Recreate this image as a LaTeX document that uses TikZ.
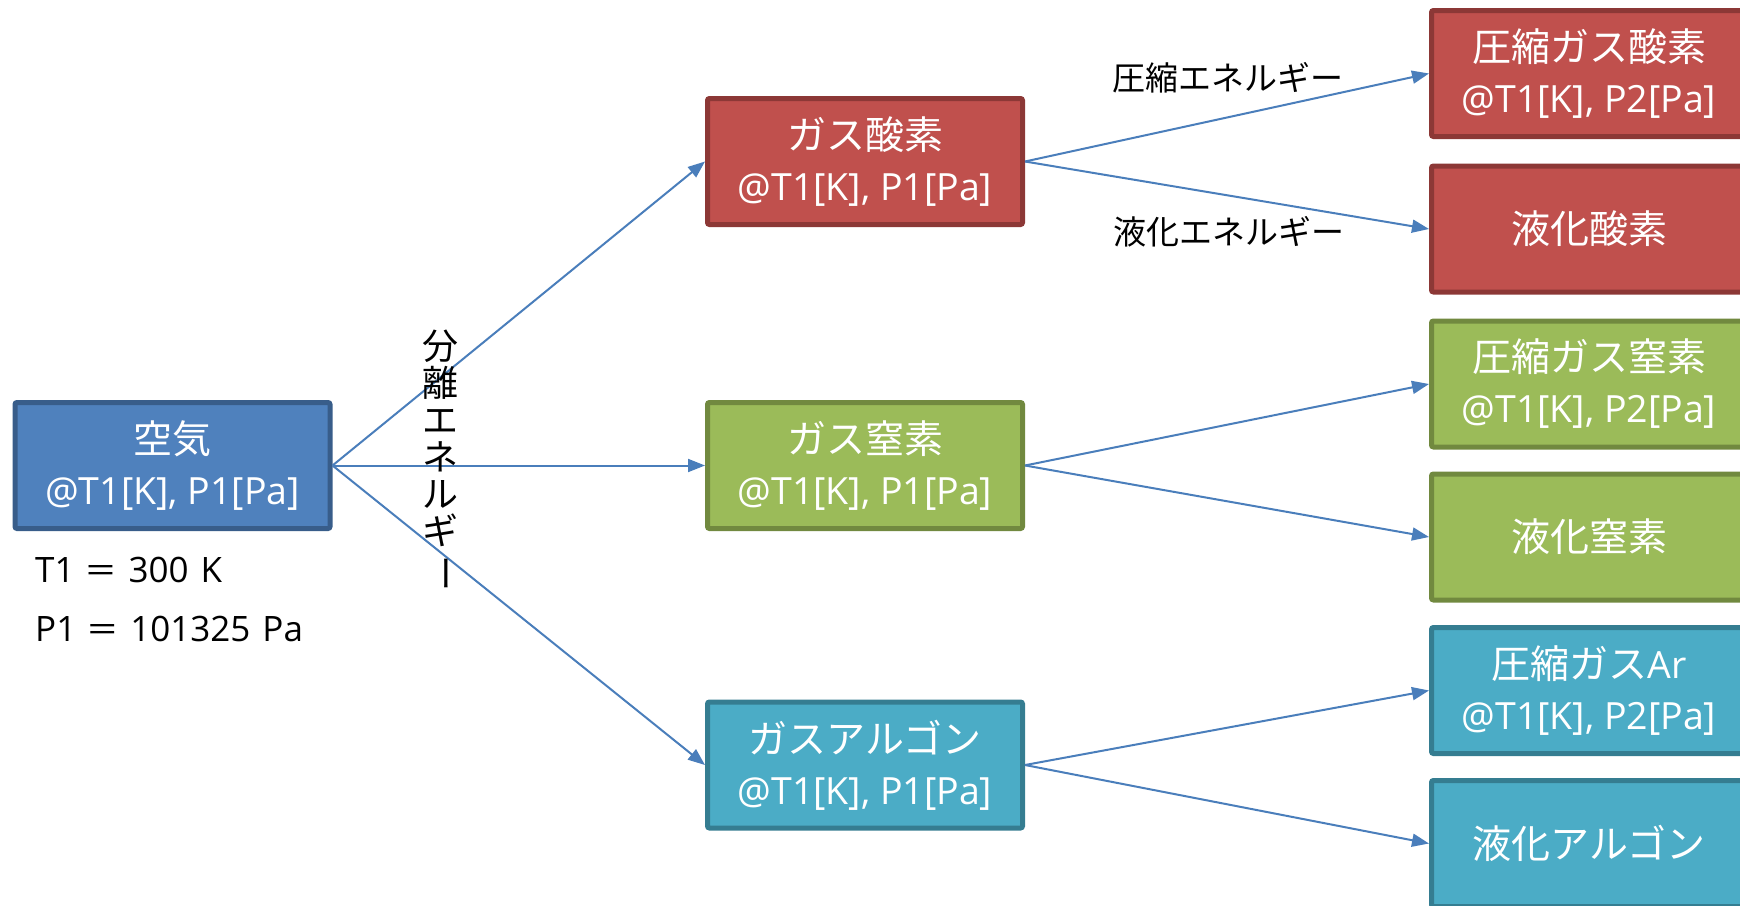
\documentclass[tikz,border=0pt]{standalone}
\usepackage{fontspec}
\setmainfont{Open Sans}
\newfontfamily\jpfont{Noto Sans CJK JP}
\newcommand{\jpt}[1]{{\jpfont\fontsize{39}{51}\selectfont #1}}
\newcommand{\eqw}{\hspace{11pt}\scalebox{1.5}[1]{=}\hspace{13pt}}
\usetikzlibrary{arrows.meta}
\definecolor{blueF}{HTML}{4F81BD}
\definecolor{blueD}{HTML}{385D8A}
\definecolor{redF}{HTML}{C0504D}
\definecolor{redD}{HTML}{8C3836}
\definecolor{greenF}{HTML}{9BBB59}
\definecolor{greenD}{HTML}{71893F}
\definecolor{cyanF}{HTML}{4BACC6}
\definecolor{cyanD}{HTML}{357D91}
\definecolor{arrowC}{HTML}{4A7EBB}
\tikzset{
  box/.style={draw, line width=5pt, rounded corners=2pt, minimum width=315pt, minimum height=126pt,
    inner sep=0pt, align=center, text=white, font=\fontsize{37.5}{51}\selectfont},
  bluebox/.style={box, fill=blueF, draw=blueD},
  redbox/.style={box, fill=redF, draw=redD},
  greenbox/.style={box, fill=greenF, draw=greenD},
  cyanbox/.style={box, fill=cyanF, draw=cyanD},
  arr/.style={draw=arrowC, line width=2pt, -{Triangle[length=17pt,width=13pt]}},
  lbl/.style={font=\jpfont\fontsize{33}{40}\selectfont, text=black, inner sep=0pt},
  vlbl/.style={font=\jpfont\fontsize{36}{37}\selectfont, text=black, inner sep=0pt, align=center},
  txt/.style={font=\fontsize{35}{42}\selectfont, text=black, inner sep=0pt}
}
\begin{document}
\begin{tikzpicture}[x=1pt,y=-1pt]
\useasboundingbox (0,0) rectangle (1740,905);
\clip (0,0) rectangle (1740,905);
\node[bluebox] (air) at (172.5,465.5) {\jpt{空気}\\@T1[K], P1[Pa]};
\node[redbox] (o2) at (865,161.5) {\jpt{ガス酸素}\\@T1[K], P1[Pa]};
\node[greenbox] (n2) at (865,465.5) {\jpt{ガス窒素}\\@T1[K], P1[Pa]};
\node[cyanbox] (ar) at (865,765) {\jpt{ガスアルゴン}\\@T1[K], P1[Pa]};
\node[redbox] (co2) at (1589,73.5) {\jpt{圧縮ガス酸素}\\@T1[K], P2[Pa]};
\node[redbox] (lo2) at (1589,229) {\jpt{液化酸素}};
\node[greenbox] (cn2) at (1589,384) {\jpt{圧縮ガス窒素}\\@T1[K], P2[Pa]};
\node[greenbox] (ln2) at (1589,537) {\jpt{液化窒素}};
\node[cyanbox] (car) at (1589,690.5) {\jpt{圧縮ガス}Ar\\@T1[K], P2[Pa]};
\node[cyanbox] (lar) at (1589,843.5) {\jpt{液化アルゴン}};
\node[txt, anchor=base west] (t1) at (35,582) {T1\eqw 300\hspace{3pt} K};
\node[txt, anchor=base west] (p1) at (35,641) {P1\eqw 101325\hspace{3pt} Pa};
\node[lbl] (lc) at (1228,78) {圧縮エネルギー};
\node[lbl] (ll) at (1229,232) {液化エネルギー};
\draw[arr] (air.east) -- (o2.west);
\draw[arr] (air.east) -- (n2.west);
\draw[arr] (air.east) -- (ar.west);
\draw[arr] (o2.east) -- (co2.west);
\draw[arr] (o2.east) -- (lo2.west);
\draw[arr] (n2.east) -- (cn2.west);
\draw[arr] (n2.east) -- (ln2.west);
\draw[arr] (ar.east) -- (car.west);
\draw[arr] (ar.east) -- (lar.west);
\node[vlbl] (sep) at (440,461) {分\\離\\エ\\ネ\\ル\\ギ\\\rotatebox[origin=c]{-90}{ー}};
\end{tikzpicture}
\end{document}
